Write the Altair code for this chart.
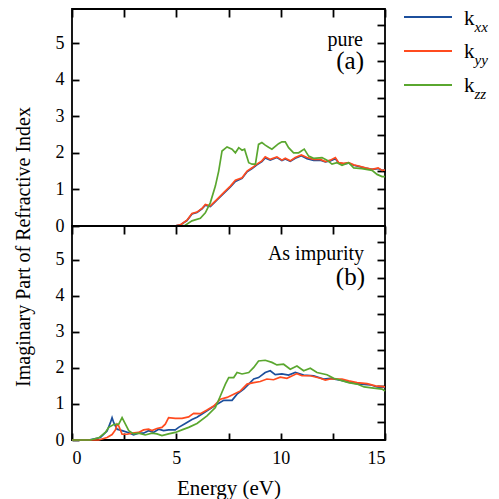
import altair as alt
import pandas as pd

# ---------------- data ----------------
series_names = ["kxx", "kyy", "kzz"]
series_colors = ["#1c4f9c", "#ff4b1f", "#5aa72f"]

# (a) pure
a_xx_E = [0, 4.8, 5.0, 5.19, 5.51, 5.75, 5.99, 6.23, 6.39, 6.63, 6.95, 7.27, 7.59, 7.83, 8.15, 8.39, 8.63, 8.86,
          9.10, 9.26, 9.50, 9.82, 10.06, 10.22, 10.46, 10.70, 10.99, 11.26, 11.58, 11.90, 12.14, 12.38, 12.62,
          12.78, 13.02, 13.26, 13.50, 13.74, 14.06, 14.38, 14.67, 14.86, 15]
a_xx_k = [0, 0, 0.01, 0.03, 0.15, 0.33, 0.37, 0.47, 0.57, 0.53, 0.71, 0.89, 1.07, 1.22, 1.30, 1.48, 1.57, 1.67,
          1.76, 1.86, 1.80, 1.87, 1.79, 1.83, 1.77, 1.85, 1.92, 1.84, 1.79, 1.80, 1.75, 1.78, 1.84,
          1.72, 1.70, 1.72, 1.66, 1.63, 1.58, 1.55, 1.57, 1.52, 1.53]
a_yy_E = a_xx_E
a_yy_k = [0, 0, 0.01, 0.03, 0.16, 0.34, 0.38, 0.48, 0.59, 0.55, 0.73, 0.91, 1.09, 1.25, 1.32, 1.50, 1.59, 1.69,
          1.78, 1.89, 1.82, 1.89, 1.80, 1.85, 1.78, 1.87, 1.94, 1.87, 1.82, 1.82, 1.76, 1.80, 1.87,
          1.73, 1.71, 1.73, 1.67, 1.64, 1.59, 1.55, 1.59, 1.52, 1.53]
a_zz_E = [0, 5.2, 5.43, 5.75, 6.15, 6.39, 6.63, 6.87, 7.03, 7.19, 7.43, 7.67, 7.83, 7.99, 8.15, 8.27, 8.47,
          8.63, 8.79, 8.94, 9.10, 9.26, 9.42, 9.58, 9.90, 10.06, 10.22, 10.38, 10.62, 10.86, 11.13, 11.34,
          11.58, 11.98, 12.22, 12.46, 12.70, 12.94, 13.26, 13.50, 13.90, 14.38, 14.62, 14.86, 15]
a_zz_k = [0, 0, 0.02, 0.14, 0.21, 0.36, 0.64, 1.09, 1.50, 2.05, 2.16, 2.10, 2.00, 2.14, 2.07, 2.10, 1.73,
          1.69, 1.69, 2.23, 2.28, 2.21, 2.15, 2.10, 2.25, 2.30, 2.30, 2.14, 2.00, 2.00, 2.10, 1.91,
          1.85, 1.87, 1.80, 1.69, 1.73, 1.66, 1.73, 1.59, 1.57, 1.52, 1.41, 1.35, 1.35]

# (b) As impurity
b_xx_E = [0, 0.8, 1.36, 1.68, 1.84, 1.92, 2.0, 2.16, 2.40, 2.72, 2.95, 3.19, 3.43, 3.67, 3.91, 4.15, 4.39,
          4.63, 4.95, 5.11, 5.43, 5.75, 5.99, 6.47, 6.95, 7.27, 7.67, 7.91, 8.23, 8.47, 8.71, 8.94, 9.26,
          9.50, 9.74, 10.06, 10.38, 10.70, 11.10, 11.58, 12.06, 12.38, 12.86, 13.34, 13.82, 14.30, 14.62, 15]
b_xx_k = [0, 0, 0.07, 0.25, 0.48, 0.62, 0.48, 0.30, 0.26, 0.20, 0.14, 0.19, 0.19, 0.26, 0.21, 0.30, 0.26,
          0.28, 0.28, 0.35, 0.46, 0.57, 0.63, 0.81, 0.99, 1.10, 1.10, 1.27, 1.41, 1.55, 1.69, 1.73, 1.87,
          1.92, 1.81, 1.83, 1.80, 1.87, 1.80, 1.78, 1.69, 1.71, 1.66, 1.59, 1.55, 1.53, 1.47, 1.46]
b_yy_E = [0, 1.28, 1.68, 1.92, 2.08, 2.16, 2.24, 2.40, 2.64, 2.88, 3.19, 3.43, 3.67, 3.83, 4.07, 4.31, 4.47,
          4.63, 4.95, 5.27, 5.59, 5.83, 6.15, 6.47, 6.79, 7.11, 7.43, 7.75, 8.07, 8.39, 8.71, 9.02, 9.34,
          9.66, 9.98, 10.30, 10.78, 11.02, 11.42, 11.90, 12.14, 12.38, 12.94, 13.26, 13.66, 14.14, 14.54, 15]
b_yy_k = [0, 0, 0.07, 0.15, 0.28, 0.44, 0.39, 0.16, 0.16, 0.19, 0.21, 0.28, 0.30, 0.26, 0.32, 0.35, 0.44,
          0.62, 0.60, 0.60, 0.64, 0.74, 0.73, 0.83, 0.94, 1.13, 1.18, 1.27, 1.36, 1.55, 1.59, 1.62, 1.69,
          1.67, 1.74, 1.71, 1.84, 1.78, 1.78, 1.71, 1.66, 1.69, 1.69, 1.64, 1.59, 1.56, 1.50, 1.47]
b_zz_E = [0, 0.88, 1.28, 1.6, 1.76, 2.0, 2.24, 2.40, 2.56, 2.72, 2.95, 3.19, 3.51, 3.83, 4.07, 4.31, 4.63,
          4.95, 5.27, 5.59, 5.99, 6.47, 6.87, 7.11, 7.35, 7.51, 7.75, 7.91, 8.15, 8.47, 8.71, 8.94, 9.26,
          9.58, 9.82, 10.14, 10.46, 10.78, 11.10, 11.42, 11.74, 12.22, 12.54, 12.86, 13.26, 13.66, 14.0,
          14.46, 14.86, 15]
b_zz_k = [0, 0, 0.06, 0.21, 0.35, 0.43, 0.44, 0.62, 0.44, 0.26, 0.17, 0.19, 0.14, 0.19, 0.17, 0.12, 0.17,
          0.21, 0.28, 0.35, 0.46, 0.67, 0.90, 1.22, 1.55, 1.73, 1.73, 1.87, 1.83, 1.87, 2.01, 2.19, 2.21,
          2.15, 2.08, 2.10, 1.96, 2.05, 1.92, 1.99, 1.87, 1.81, 1.71, 1.66, 1.59, 1.55, 1.47, 1.44, 1.41,
          1.36]

y_ticks_major = [0, 1, 2, 3, 4, 5]
y_ticks_minor = [0.5, 1, 1.5, 2, 2.5, 3, 3.5, 4, 4.5, 5, 5.5]
x_ticks = [0, 2.5, 5, 7.5, 10, 12.5, 15]
legend_subs = ["xx", "yy", "zz"]

FONT = "Liberation Serif"


def long_df(parts):
    rows = []
    for name, E, k in parts:
        for e, v in zip(E, k):
            rows.append({"E": e, "k": v, "series": name})
    return pd.DataFrame(rows)


df_a = long_df([("kxx", a_xx_E, a_xx_k), ("kyy", a_yy_E, a_yy_k), ("kzz", a_zz_E, a_zz_k)])
df_b = long_df([("kxx", b_xx_E, b_xx_k), ("kyy", b_yy_E, b_yy_k), ("kzz", b_zz_E, b_zz_k)])

W = 313
xscale = alt.Scale(domain=[0, 15], nice=False, zero=False)
yscale = alt.Scale(domain=[0, 5.93], nice=False)
color = alt.Color("series:N", scale=alt.Scale(domain=series_names, range=series_colors), legend=None)

left_axis = alt.Axis(orient="left", values=y_ticks_major, offset=-7, tickSize=7, labelPadding=8,
                     labelFontSize=18, title=None, format="d")
right_axis = alt.Axis(orient="right", values=y_ticks_minor, offset=-8, tickSize=8, labels=False, title=None)
top_axis = alt.Axis(orient="top", values=x_ticks, offset=-8, tickSize=8, labels=False, title=None)
bottom_axis = alt.Axis(orient="bottom", values=x_ticks, offset=-7, tickSize=7, labelPadding=9,
                       labelFontSize=18, labelExpr="datum.value % 5 === 0 ? datum.label : ''",
                       title="Energy (eV)", titleFontSize=21, titlePadding=10)

one = pd.DataFrame({"a": [0]})


def txt(s, x, y, size, align="right", style="normal"):
    return alt.Chart(one).mark_text(text=s, font=FONT, fontSize=size, align=align, baseline="alphabetic",
                                    fontStyle=style, color="black").encode(x=alt.value(x), y=alt.value(y))


def panel(df, bottom):
    lines = alt.Chart(df).mark_line(strokeWidth=1.7).encode(
        x=alt.X("E:Q", scale=xscale, axis=bottom_axis if bottom else top_axis),
        y=alt.Y("k:Q", scale=yscale, axis=left_axis),
        color=color,
    )
    dummy = alt.Chart(df).mark_point(opacity=0).encode(
        x=alt.X("E:Q", scale=xscale, axis=top_axis if bottom else None),
        y=alt.Y("k:Q", scale=yscale, axis=right_axis),
    )
    return lines, dummy


la, da = panel(df_a, False)
lb, db = panel(df_b, True)

legend_layers = []
for i, (sub, col) in enumerate(zip(legend_subs, series_colors)):
    yk = 15.5 + 33.7 * i
    legend_layers.append(
        alt.Chart(one).mark_rule(color=col, strokeWidth=2.2).encode(
            x=alt.value(332), x2=alt.value(380), y=alt.value(8 + 34 * i)))
    legend_layers.append(txt("k", 392, yk, 21, align="left"))
    legend_layers.append(txt(sub, 402.5, yk + 7, 15, align="left", style="italic"))

top = alt.layer(
    la, da,
    txt("pure", 291, 37, 20),
    txt("(a)", 292, 60, 25),
    *legend_layers,
).resolve_axis(x="independent", y="independent").properties(width=W, height=217)

ytitle = alt.Chart(one).mark_text(text="Imaginary Part of Refractive Index", font=FONT, fontSize=20,
                                  angle=270, align="center", baseline="alphabetic", color="black").encode(
    x=alt.value(-42), y=alt.value(21))

bot = alt.layer(
    lb, db,
    txt("As impurity", 292, 34, 20),
    txt("(b)", 293, 59, 25),
    ytitle,
).resolve_axis(x="independent", y="independent").properties(width=W, height=214)

chart = alt.VConcatChart(vconcat=[top, bot], spacing=0, bounds="flush").properties(
    padding={"left": 5, "top": -2, "right": 0, "bottom": 0}
).configure_view(stroke="black", strokeWidth=1.8).configure_axis(
    labelFont=FONT, titleFont=FONT, labelColor="black", titleColor="black", tickColor="black",
    tickWidth=1.8, grid=False, domain=False, titleFontWeight="normal"
)

chart.save("out.html", embed_options={"renderer": "svg", "actions": False})
